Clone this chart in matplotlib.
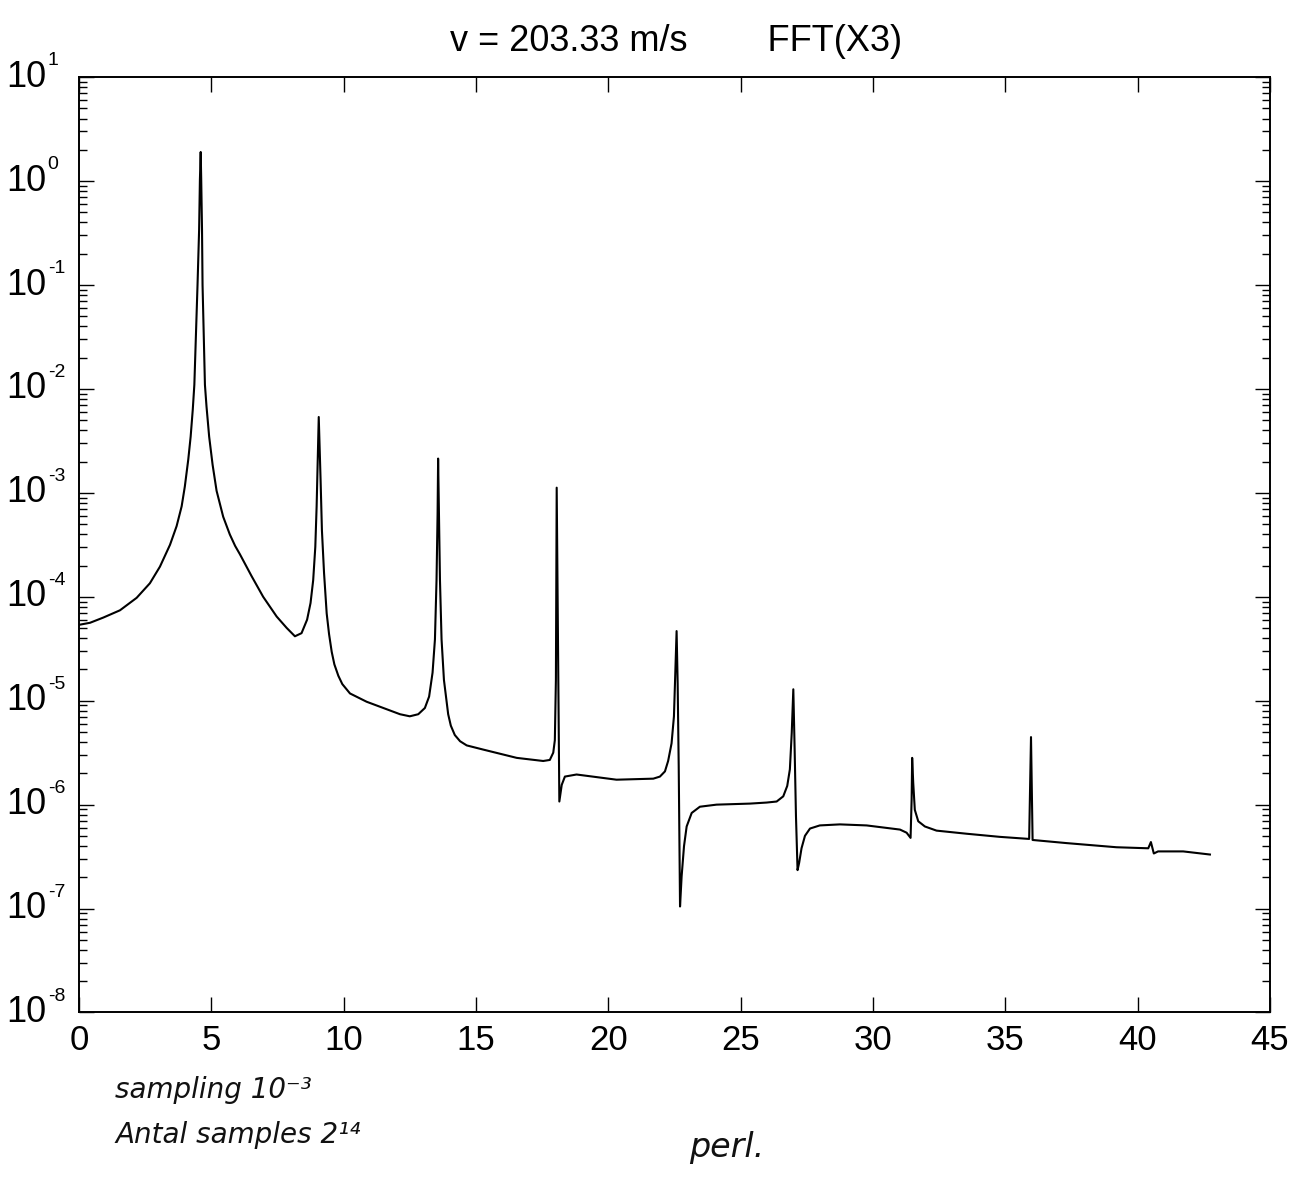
import numpy as np
import matplotlib
matplotlib.use("Agg")
import matplotlib.pyplot as plt
import matplotlib.ticker as mticker

plt.rcParams["font.family"] = ["Liberation Sans", "DejaVu Sans"]
plt.rcParams["axes.unicode_minus"] = False

# spectrum: frequency and log10(|FFT(X3)|)
freq = [
    0.00, 0.42, 0.92, 1.55, 2.18, 2.68, 3.06, 3.44, 3.69, 3.88, 4.00, 4.13,
    4.22, 4.30, 4.36, 4.48, 4.54, 4.57, 4.60, 4.62, 4.65, 4.67, 4.76, 4.82,
    4.92, 5.05, 5.20, 5.45, 5.70, 5.90, 6.08, 6.52, 6.96, 7.47, 7.85, 8.16, 8.41,
    8.62, 8.75, 8.85, 8.93, 8.98, 9.02, 9.06, 9.13, 9.18, 9.26, 9.36, 9.45, 9.55,
    9.65, 9.80, 9.95, 10.24, 10.87, 11.50, 12.13, 12.50, 12.82, 13.07, 13.23, 13.36, 13.45, 13.51,
    13.55, 13.57, 13.60, 13.64, 13.70, 13.79, 13.95, 14.05, 14.20, 14.40, 14.65, 15.27, 16.54, 17.54,
    17.79, 17.92, 17.98, 18.02, 18.05, 18.10, 18.15, 18.24, 18.36, 18.80, 20.31, 21.70,
    21.95, 22.14, 22.26, 22.39, 22.48, 22.54, 22.58, 22.62, 22.66, 22.71, 22.77, 22.86,
    22.96, 23.15, 23.46, 24.09, 25.35, 25.98, 26.36, 26.61, 26.76, 26.86, 26.93, 26.99,
    27.04, 27.09, 27.15, 27.21, 27.30, 27.43, 27.62, 27.99, 28.75, 29.76, 31.02, 31.27,
    31.42, 31.46, 31.48, 31.52, 31.58, 31.71, 31.96, 32.40, 33.54, 34.79, 35.90, 35.97,
    36.03, 37.31, 39.20, 40.40, 40.50, 40.61, 40.77, 41.72, 42.73,
]
log_amp = [
    -4.27, -4.25, -4.20, -4.13, -4.01, -3.87, -3.71, -3.50, -3.32, -3.13, -2.94, -2.68,
    -2.46, -2.20, -1.96, -1.00, -0.47, 0.01, 0.28, 0.01, -0.47, -1.00, -1.96, -2.17,
    -2.46, -2.73, -2.98, -3.23, -3.40, -3.51, -3.59, -3.80, -4.00, -4.19, -4.30, -4.38, -4.35,
    -4.22, -4.06, -3.84, -3.52, -3.13, -2.71, -2.27, -2.88, -3.36, -3.77, -4.16, -4.36, -4.53,
    -4.65, -4.76, -4.84, -4.93, -5.01, -5.07, -5.13, -5.15, -5.13, -5.07, -4.96, -4.73, -4.41, -3.84,
    -3.20, -2.67, -3.20, -3.84, -4.41, -4.80, -5.13, -5.24, -5.33, -5.39, -5.43, -5.47, -5.55, -5.58,
    -5.57, -5.50, -5.38, -4.80, -2.95, -4.51, -5.97, -5.81, -5.73, -5.71, -5.76, -5.75,
    -5.73, -5.68, -5.58, -5.41, -5.15, -4.67, -4.33, -4.83, -5.63, -6.98, -6.69, -6.40,
    -6.21, -6.08, -6.02, -6.00, -5.99, -5.98, -5.97, -5.92, -5.82, -5.66, -5.31, -4.89,
    -5.47, -6.11, -6.63, -6.56, -6.42, -6.30, -6.23, -6.20, -6.19, -6.20, -6.24, -6.27,
    -6.32, -5.95, -5.55, -5.79, -6.05, -6.16, -6.21, -6.25, -6.28, -6.31, -6.33, -5.35,
    -6.34, -6.37, -6.41, -6.42, -6.36, -6.47, -6.45, -6.45, -6.48,
]

x_ticks = [0, 5, 10, 15, 20, 25, 30, 35, 40, 45]
y_exponents = [1, 0, -1, -2, -3, -4, -5, -6, -7, -8]

title_text = "v = 203.33 m/s        FFT(X3)"
note_lines = ["sampling 10\u207b\u00b3", "Antal samples 2\u00b9\u2074"]
note_sign = "perl."

amp = 10.0 ** np.array(log_amp)

fig = plt.figure(figsize=(13.07, 11.78), dpi=100)
ax = fig.add_axes([0.0604, 0.1405, 0.9113, 0.7940])

ax.plot(freq, amp, color="black", linewidth=1.5)

ax.set_yscale("log")
ax.set_xlim(0, 45)
ax.set_ylim(1e-8, 1e1)
ax.set_xticks(x_ticks)
ax.yaxis.set_major_locator(mticker.FixedLocator([10.0 ** e for e in y_exponents]))
ax.yaxis.set_minor_locator(mticker.LogLocator(base=10, subs=np.arange(2, 10), numticks=20))
ax.yaxis.set_major_formatter(mticker.NullFormatter())
ax.yaxis.set_minor_formatter(mticker.NullFormatter())

ax.tick_params(which="both", direction="in", top=True, right=True, width=1.0)
ax.tick_params(axis="x", labelsize=25, pad=8)
ax.tick_params(which="major", length=11)
ax.tick_params(which="minor", length=6)
for s in ax.spines.values():
    s.set_linewidth(1.4)

# MATLAB-style decade labels: big "10" with a small raised exponent
for e in y_exponents:
    ax.annotate("10", xy=(0, 10.0 ** e), xycoords=("axes fraction", "data"),
                xytext=(-23.5, 0), textcoords="offset points",
                ha="right", va="center", fontsize=26)
    ax.annotate(str(e), xy=(0, 10.0 ** e), xycoords=("axes fraction", "data"),
                xytext=(-22.5, 8.5), textcoords="offset points",
                ha="left", va="baseline", fontsize=14)

fig.text(0.517, 0.965, title_text, ha="center", va="center", fontsize=26)

# handwritten notes under the axes
fig.text(0.088, 0.068, note_lines[0], fontsize=20, style="italic", family="DejaVu Sans", color="#111111")
fig.text(0.088, 0.030, note_lines[1], fontsize=20, style="italic", family="DejaVu Sans", color="#111111")
fig.text(0.527, 0.018, note_sign, fontsize=24, style="italic", family="DejaVu Sans", color="#111111")

fig.savefig("out.png", dpi=100)
